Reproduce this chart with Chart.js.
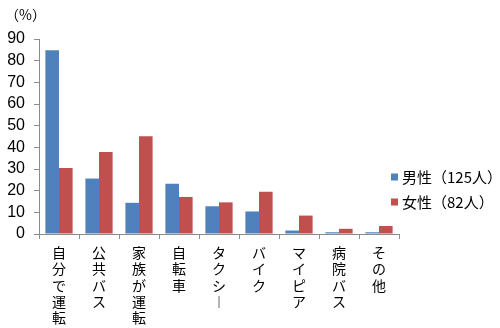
<!DOCTYPE html>
<html lang="ja">
<head>
<meta charset="utf-8">
<title>交通手段（男女別）</title>
<script src="https://cdn.jsdelivr.net/npm/chart.js@4/dist/chart.umd.min.js"></script>
<style>
  html, body { margin: 0; padding: 0; background: #fff; }
  #wrap { position: relative; width: 500px; height: 328px; }
</style>
</head>
<body>
<div id="wrap"><canvas id="chart-mode"></canvas></div>
<script>
// ── DONNÉES ────────────────────────────────────────────────
const categories = ['自分で運転', '公共バス', '家族が運転', '自転車', 'タクシー', 'バイク', 'マイピア', '病院バス', 'その他'];
const seriesNames = ['男性（125人）', '女性（82人）'];
const maleValues   = [84.8, 25.6, 14.4, 23.2, 12.8, 10.4, 1.6, 0.8, 0.8];
const femaleValues = [30.5, 37.8, 45.1, 17.1, 14.6, 19.5, 8.5, 2.4, 3.7];
const yTicks = [0, 10, 20, 30, 40, 50, 60, 70, 80, 90];
const unitLabel = '（%）';

const COLORS = ['#4F81BD', '#C0504D'];
const AXIS_COLOR = '#8C8C8C';
const JP_FONT = '"Noto Sans CJK JP", "Noto Sans", sans-serif';

// Libellés verticaux : un caractère par ligne, le trait d'allongement
// prend sa forme verticale
const verticalLabel = s => Array.from(s).map(c => c === 'ー' ? '︱' : c);

// ── LÉGENDE + UNITÉ (dessinées à la main, positionnées sur la zone du graphe)
const sideLegend = {
  id: 'sideLegend',
  afterDraw(chart) {
    const { ctx, chartArea } = chart;
    ctx.save();
    ctx.fillStyle = '#000';
    ctx.textBaseline = 'middle';
    ctx.textAlign = 'left';
    // unité de l'axe Y, au-dessus des graduations
    ctx.font = '14px ' + JP_FONT;
    ctx.fillText(unitLabel, chartArea.left - 34, chartArea.top - 24);

    ctx.font = '15px ' + JP_FONT;
    chart.data.datasets.forEach((ds, i) => {
      const y = chartArea.top + 138 + i * 25;
      const x = chartArea.right - 8;
      ctx.fillStyle = ds.backgroundColor;
      ctx.fillRect(x, y - 3.5, 7, 7);
      ctx.fillStyle = '#000';
      ctx.fillText(ds.label, x + 11, y);
    });
    ctx.restore();
  }
};

new Chart(document.getElementById('chart-mode').getContext('2d'), {
  type: 'bar',
  data: {
    labels: categories.map(verticalLabel),
    datasets: [
      { label: seriesNames[0], data: maleValues, backgroundColor: COLORS[0] },
      { label: seriesNames[1], data: femaleValues, backgroundColor: COLORS[1] }
    ]
  },
  options: {
    responsive: true,
    maintainAspectRatio: false,
    animation: false,
    layout: { padding: { left: 0, right: 101, top: 39, bottom: 0 } },
    datasets: { bar: { categoryPercentage: 0.68, barPercentage: 1.0 } },
    plugins: {
      legend: { display: false },
      tooltip: { enabled: false }
    },
    scales: {
      x: {
        offset: true,
        grid: { offset: true, drawOnChartArea: false, drawTicks: true, tickLength: 5, color: AXIS_COLOR },
        border: { color: AXIS_COLOR },
        ticks: {
          autoSkip: false,
          maxRotation: 0,
          minRotation: 0,
          padding: 6,
          color: '#000',
          font: { family: JP_FONT, size: 14, lineHeight: 1.15 }
        },
        afterFit: s => { s.height = 94; }
      },
      y: {
        min: yTicks[0],
        max: yTicks[yTicks.length - 1],
        afterBuildTicks: s => { s.ticks = yTicks.map(v => ({ value: v })); },
        grid: { drawOnChartArea: false, drawTicks: true, tickLength: 5, color: AXIS_COLOR },
        border: { color: AXIS_COLOR },
        ticks: {
          autoSkip: false,
          padding: 9,
          color: '#000',
          font: { family: '"Liberation Sans", Arial, sans-serif', size: 16 }
        },
        afterFit: s => { s.width = 39; }
      }
    }
  },
  plugins: [sideLegend]
});
</script>
</body>
</html>
